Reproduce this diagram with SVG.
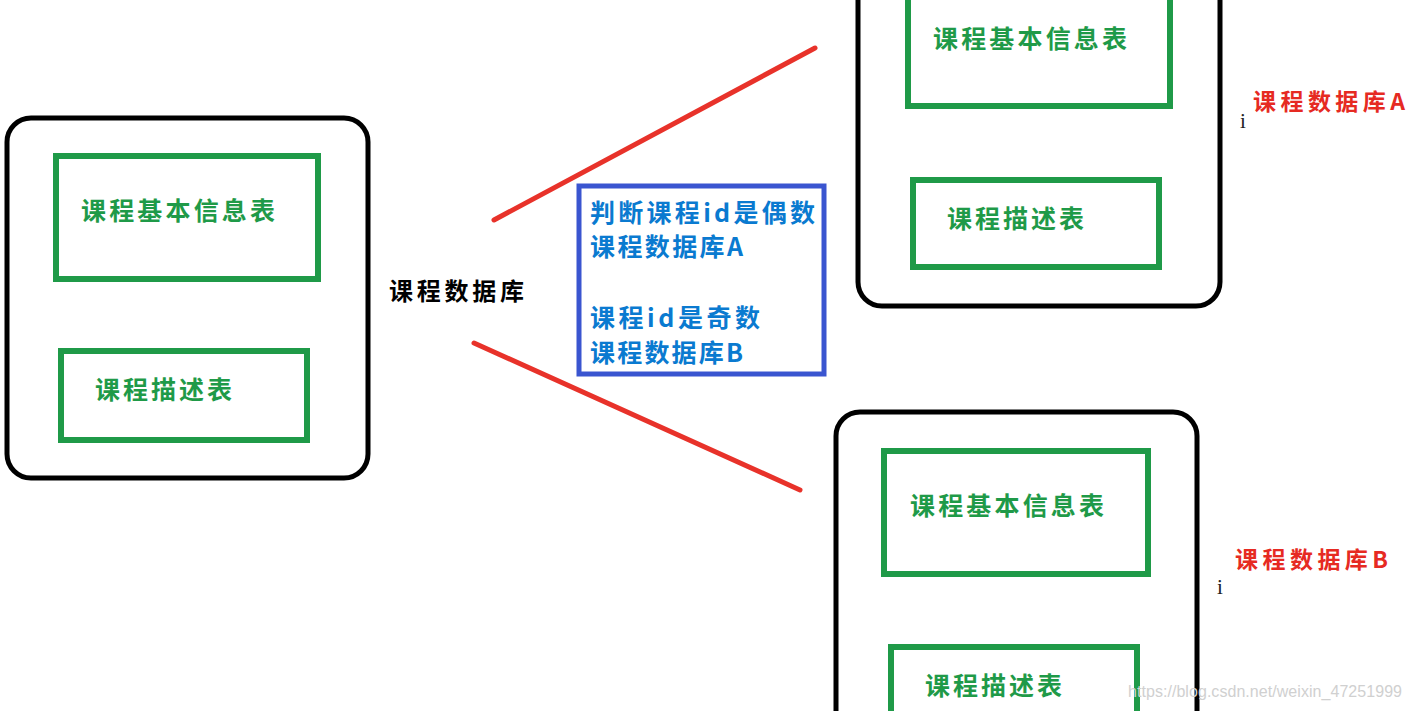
<svg xmlns="http://www.w3.org/2000/svg" width="1410" height="711" viewBox="0 0 1410 711">
<style>
.outer{fill:none;stroke:#000;stroke-width:5}
.tbl{fill:none;stroke:#1f9a48;stroke-width:6}
.tt{font-family:"Noto Sans CJK SC",sans-serif;font-weight:bold;font-size:25px;fill:#1f9a48}
.lbl{font-family:"Noto Sans CJK SC",sans-serif;font-weight:bold;font-size:24px;fill:#000}
.red{font-family:"Noto Sans CJK SC",sans-serif;font-weight:bold;font-size:23px;fill:#e62a22}
.note{font-family:"Noto Sans CJK SC",sans-serif;font-weight:bold;font-size:25px;fill:#0a7ad0}
.line{stroke:#e8322a;stroke-width:5;stroke-linecap:round}
.cur{font-family:"Liberation Serif",serif;font-size:21px;fill:#222}
.wm{font-family:"Liberation Sans",sans-serif;font-size:16px;fill:#d0d0d0}
</style>
<rect width="1410" height="711" fill="#fff"/>
<g id="connectors">
<line class="line" x1="494" y1="220" x2="815" y2="48"/>
<line class="line" x1="474" y1="343" x2="800" y2="490"/>
</g>
<g id="db-main">
<rect class="outer" x="7" y="118" width="361" height="360" rx="24"/>
<rect class="tbl" x="56" y="156" width="262" height="123"/>
<text class="tt" x="81" y="220" textLength="194">课程基本信息表</text>
<rect class="tbl" x="61" y="351" width="246" height="89"/>
<text class="tt" x="95" y="399" textLength="137">课程描述表</text>
</g>
<g id="label-main">
<text class="lbl" x="389" y="300" textLength="135">课程数据库</text>
</g>
<g id="rule-note">
<rect x="579" y="186" width="245" height="188" fill="none" stroke="#3a55d0" stroke-width="5"/>
<text class="note" x="590" y="222" textLength="225">判断课程id是偶数</text>
<text class="note" x="590" y="256" textLength="153">课程数据库A</text>
<text class="note" x="590" y="327" textLength="170">课程id是奇数</text>
<text class="note" x="590" y="362" textLength="153">课程数据库B</text>
</g>
<g id="db-a">
<rect class="outer" x="858" y="-40" width="362" height="346" rx="24"/>
<rect class="tbl" x="908" y="-10" width="262" height="116"/>
<text class="tt" x="933" y="48" textLength="194">课程基本信息表</text>
<rect class="tbl" x="913" y="180" width="246" height="87"/>
<text class="tt" x="947" y="228" textLength="137">课程描述表</text>
<text class="red" x="1253" y="110" textLength="152">课程数据库A</text>
<text class="cur" x="1240" y="128">i</text>
</g>
<g id="db-b">
<rect class="outer" x="836" y="412" width="361" height="340" rx="24"/>
<rect class="tbl" x="884" y="451" width="264" height="123"/>
<text class="tt" x="910" y="515" textLength="194">课程基本信息表</text>
<rect class="tbl" x="891" y="647" width="246" height="90"/>
<text class="tt" x="925" y="695" textLength="137">课程描述表</text>
<text class="red" x="1235" y="568" textLength="153">课程数据库B</text>
<text class="cur" x="1217" y="594">i</text>
</g>
<text class="wm" x="1128" y="697" textLength="274">https://blog.csdn.net/weixin_47251999</text>
</svg>
